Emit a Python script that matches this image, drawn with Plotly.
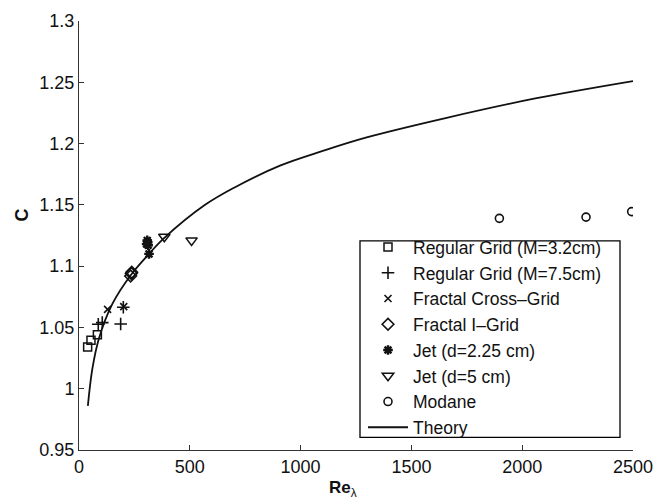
import plotly.graph_objects as go

# Measured data: Taylor-scale Reynolds number vs. C
re_grid32 = [39, 54, 83]
c_grid32 = [1.034, 1.0395, 1.044]

re_grid75 = [87, 105, 188, 200]
c_grid75 = [1.0526, 1.0539, 1.0528, 1.0665]

re_cross = [129, 202]
c_cross = [1.0647, 1.067]

re_igrid = [233, 236, 238]
c_igrid = [1.092, 1.094, 1.095]

re_jet225 = [305, 308, 310, 312, 316]
c_jet225 = [1.118, 1.121, 1.1195, 1.117, 1.110]

re_jet5 = [385, 508]
c_jet5 = [1.124, 1.121]

re_modane = [1897, 2288, 2494]
c_modane = [1.139, 1.140, 1.1445]

# Theory curve samples
re_theory = [40, 60, 90, 150, 235, 316, 385, 569, 700, 907, 1100, 1298, 1659,
             2065, 2500]
c_theory = [0.986, 1.016, 1.041, 1.069, 1.093, 1.110, 1.123, 1.150, 1.164,
            1.182, 1.194, 1.205, 1.221, 1.237, 1.251]

x_ticks = [0, 500, 1000, 1500, 2000, 2500]
y_ticks = [0.95, 1.0, 1.05, 1.1, 1.15, 1.2, 1.25, 1.3]
y_tick_text = ["0.95", "1", "1.05", "1.1", "1.15", "1.2", "1.25", "1.3"]

FONT = "Liberation Sans, Arial, Helvetica, sans-serif"
INK = "#111111"

# plot area in pixels (left, right, top, bottom)
PL, PR, PT, PB = 79, 633, 11, 450


def px_x(p):
    return (p - PL) / (PR - PL)


def px_y(p):
    return (PB - p) / (PB - PT)


series = [
    ("Regular Grid (M=3.2cm)", re_grid32, c_grid32, "square-open", 8, 1.5),
    ("Regular Grid (M=7.5cm)", re_grid75, c_grid75, "cross-thin-open", 9, 1.6),
    ("Fractal Cross\u2013Grid", re_cross, c_cross, "x-thin-open", 7, 1.6),
    ("Fractal I\u2013Grid", re_igrid, c_igrid, "diamond-open", 9, 1.6),
    ("Jet (d=2.25 cm)", re_jet225, c_jet225, "asterisk-open", 8, 2.4),
    ("Jet (d=5 cm)", re_jet5, c_jet5, "triangle-down-open", 10, 1.5),
    ("Modane", re_modane, c_modane, "circle-open", 8, 1.6),
]

fig = go.Figure()
for i, (name, xs, ys, sym, size, lw) in enumerate(series):
    fig.add_trace(go.Scatter(
        x=xs, y=ys, mode="markers", name=name, legendgroup=f"g{i}",
        marker=dict(symbol=sym, size=size, color=INK,
                    line=dict(color=INK, width=lw)),
    ))

fig.add_trace(go.Scatter(
    x=re_theory, y=c_theory, mode="lines", name="Theory", legendgroup="g7",
    line=dict(color=INK, width=1.8, shape="spline", smoothing=1.0),
))

axis_common = dict(
    showline=True, linecolor="#333333", linewidth=1,
    ticks="inside", ticklen=5, tickcolor="#333333", tickwidth=1,
    showgrid=False, zeroline=False, mirror=False,
    tickfont=dict(family=FONT, size=18, color=INK),
)

fig.update_layout(
    width=667, height=500,
    margin=dict(l=PL, r=667 - PR, t=PT, b=500 - PB),
    paper_bgcolor="white", plot_bgcolor="white",
    font=dict(family=FONT, size=18, color=INK),
    xaxis=dict(range=[0, 2500], tickvals=x_ticks, **axis_common),
    yaxis=dict(range=[0.95, 1.3], tickvals=y_ticks,
               ticktext=y_tick_text, **axis_common),
    legend=dict(
        x=px_x(363), y=px_y(224), xanchor="left", yanchor="top",
        bgcolor="rgba(0,0,0,0)", borderwidth=0,
        font=dict(family=FONT, size=17.5, color=INK),
        traceorder="grouped", tracegroupgap=0, itemwidth=40,
    ),
    showlegend=True,
    shapes=[
        # legend frame
        dict(type="rect", xref="paper", yref="paper", layer="above",
             x0=px_x(360), x1=px_x(620), y0=px_y(437), y1=px_y(236),
             line=dict(color="black", width=1.3), fillcolor="white"),
    ],
    annotations=[
        # axis labels
        dict(text="<b>Re</b><sub>\u03bb</sub>", xref="paper", yref="paper",
             x=px_x(327), y=px_y(490),
             xanchor="left", yanchor="middle", showarrow=False,
             font=dict(family=FONT, size=17, color=INK)),
        dict(text="<b>C</b>", xref="paper", yref="paper",
             x=px_x(22), y=px_y(210), textangle=-90,
             xanchor="center", yanchor="middle", showarrow=False,
             font=dict(family=FONT, size=18, color=INK)),
    ],
)

fig.write_html("out.html")
